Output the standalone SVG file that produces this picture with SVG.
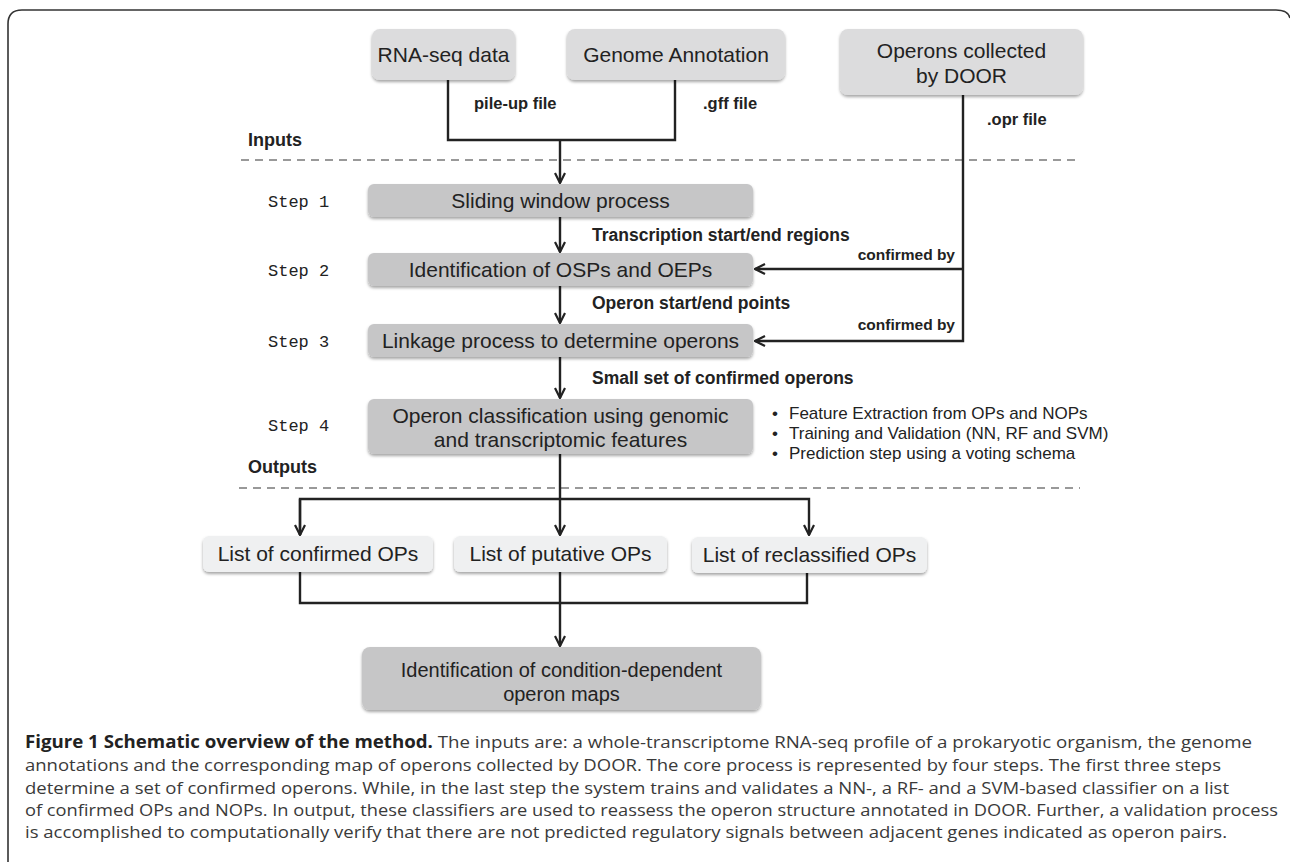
<svg xmlns="http://www.w3.org/2000/svg" width="1290" height="862" viewBox="0 0 1290 862">
<style>
.frame{fill:none;stroke:#333;stroke-width:1.6}
.light{fill:#dcdcdd}
.mid{fill:#c6c6c7}
.pale{fill:#eff0f1}
.bt{font-family:"Liberation Sans",Arial,sans-serif;font-size:21px;fill:#222;text-anchor:middle}
.lbl{font-family:"Liberation Sans",Arial,sans-serif;font-size:17.5px;font-weight:bold;fill:#222}
.sm{font-family:"Liberation Sans",Arial,sans-serif;font-size:16.5px;font-weight:bold;fill:#222}
.cb{font-family:"Liberation Sans",Arial,sans-serif;font-size:15.5px;font-weight:bold;fill:#222;text-anchor:end}
.step{font-family:"Liberation Mono","Courier New",monospace;font-size:17px;fill:#222}
.bul{font-family:"Liberation Sans",Arial,sans-serif;font-size:17px;fill:#222}
.cap{font-family:"Open Sans","Noto Sans",sans-serif;font-size:17px;fill:#3a3a3a}
.capb{font-weight:bold;fill:#222}
.dash{fill:none;stroke:#999;stroke-width:2;stroke-dasharray:8,6}
.con{fill:none;stroke:#222;stroke-width:2.4}
</style>
<defs>
<filter id="sh" x="-5%" y="-10%" width="110%" height="130%">
<feDropShadow dx="0" dy="2" stdDeviation="1.5" flood-color="#000" flood-opacity="0.35"/>
</filter>
<marker id="ah" viewBox="0 0 12 12" refX="11" refY="6" markerWidth="12" markerHeight="12" markerUnits="userSpaceOnUse" orient="auto">
<path d="M1,1 L11,6 L1,11" fill="none" stroke="#222" stroke-width="2.2"/>
</marker>
</defs>

<path class="frame" d="M8,862 V24 Q8,10 22,10 H1276 Q1288,10 1290,18"/>

<g id="dividers">
<line class="dash" x1="241" y1="160" x2="1078" y2="160"/>
<line class="dash" x1="239" y1="488" x2="1080" y2="488"/>
<text class="lbl" x="248" y="146" style="font-size:18px">Inputs</text>
<text class="lbl" x="248" y="473" style="font-size:18px">Outputs</text>
</g>

<g id="connectors">
<path class="con" d="M448,80 V140 H675 V80"/>
<path class="con" d="M560,140 V183" marker-end="url(#ah)"/>
<path class="con" d="M963,95 V341 H755" marker-end="url(#ah)"/>
<path class="con" d="M963,269 H755" marker-end="url(#ah)"/>
<path class="con" d="M560,217 V252" marker-end="url(#ah)"/>
<path class="con" d="M560,286 V323" marker-end="url(#ah)"/>
<path class="con" d="M560,357 V398" marker-end="url(#ah)"/>
<path class="con" d="M560,454 V535" marker-end="url(#ah)"/>
<path class="con" d="M300,535 V499 H809 V535" marker-end="url(#ah)"/>
<path class="con" d="M300,499 V535" marker-end="url(#ah)"/>
<path class="con" d="M300,572 V603 H807 V573"/>
<path class="con" d="M560,572 V646" marker-end="url(#ah)"/>
<text class="sm" x="474" y="109">pile-up file</text>
<text class="sm" x="703" y="109">.gff file</text>
<text class="sm" x="987" y="125">.opr file</text>
<text class="lbl" x="592" y="241">Transcription start/end regions</text>
<text class="lbl" x="592" y="309">Operon start/end points</text>
<text class="lbl" x="592" y="384">Small set of confirmed operons</text>
<text class="cb" x="955" y="260">confirmed by</text>
<text class="cb" x="955" y="330">confirmed by</text>
</g>

<g id="rnaseq">
<rect class="light" x="372" y="29" width="143" height="51" rx="8" filter="url(#sh)"/>
<text class="bt" x="443.5" y="62">RNA-seq data</text>
</g>
<g id="genome">
<rect class="light" x="567" y="29" width="218" height="51" rx="8" filter="url(#sh)"/>
<text class="bt" x="676" y="62">Genome Annotation</text>
</g>
<g id="door">
<rect class="light" x="840" y="29" width="243" height="66" rx="8" filter="url(#sh)"/>
<text class="bt" x="961.5" y="58">Operons collected</text>
<text class="bt" x="961.5" y="83">by DOOR</text>
</g>

<g id="step1">
<text class="step" x="268" y="207">Step 1</text>
<rect class="mid" x="368" y="184" width="385" height="33" rx="6" filter="url(#sh)"/>
<text class="bt" x="560.5" y="208">Sliding window process</text>
</g>
<g id="step2">
<text class="step" x="268" y="276">Step 2</text>
<rect class="mid" x="368" y="253" width="385" height="33" rx="6" filter="url(#sh)"/>
<text class="bt" x="560.5" y="277">Identification of OSPs and OEPs</text>
</g>
<g id="step3">
<text class="step" x="268" y="347">Step 3</text>
<rect class="mid" x="368" y="324" width="385" height="33" rx="6" filter="url(#sh)"/>
<text class="bt" x="560.5" y="348">Linkage process to determine operons</text>
</g>
<g id="step4">
<text class="step" x="268" y="431">Step 4</text>
<rect class="mid" x="368" y="399" width="385" height="55" rx="6" filter="url(#sh)"/>
<text class="bt" x="560.5" y="423">Operon classification using genomic</text>
<text class="bt" x="560.5" y="447">and transcriptomic features</text>
</g>
<g id="bullets">
<text class="bul" x="772" y="419">•</text>
<text class="bul" x="789" y="419">Feature Extraction from OPs and NOPs</text>
<text class="bul" x="772" y="439">•</text>
<text class="bul" x="789" y="439">Training and Validation (NN, RF and SVM)</text>
<text class="bul" x="772" y="459">•</text>
<text class="bul" x="789" y="459">Prediction step using a voting schema</text>
</g>

<g id="confirmed">
<rect class="pale" x="203" y="536" width="230" height="36" rx="6" filter="url(#sh)"/>
<text class="bt" x="318" y="561">List of confirmed OPs</text>
</g>
<g id="putative">
<rect class="pale" x="454" y="536" width="213" height="36" rx="6" filter="url(#sh)"/>
<text class="bt" x="560.5" y="561">List of putative OPs</text>
</g>
<g id="reclassified">
<rect class="pale" x="692" y="537" width="235" height="36" rx="6" filter="url(#sh)"/>
<text class="bt" x="809.5" y="562">List of reclassified OPs</text>
</g>

<g id="maps">
<rect class="mid" x="362" y="647" width="399" height="63" rx="8" filter="url(#sh)"/>
<text class="bt" x="561.5" y="677" style="font-size:20px">Identification of condition-dependent</text>
<text class="bt" x="561.5" y="701" style="font-size:20px">operon maps</text>
</g>

<g id="caption">
<text class="cap" x="25" y="748" textLength="1227" lengthAdjust="spacingAndGlyphs"><tspan class="capb">Figure 1 Schematic overview of the method.</tspan> The inputs are: a whole-transcriptome RNA-seq profile of a prokaryotic organism, the genome</text>
<text class="cap" x="25" y="771" textLength="1196" lengthAdjust="spacingAndGlyphs">annotations and the corresponding map of operons collected by DOOR. The core process is represented by four steps. The first three steps</text>
<text class="cap" x="25" y="794" textLength="1204" lengthAdjust="spacingAndGlyphs">determine a set of confirmed operons. While, in the last step the system trains and validates a NN-, a RF- and a SVM-based classifier on a list</text>
<text class="cap" x="25" y="816" textLength="1253" lengthAdjust="spacingAndGlyphs">of confirmed OPs and NOPs. In output, these classifiers are used to reassess the operon structure annotated in DOOR. Further, a validation process</text>
<text class="cap" x="25" y="838" textLength="1202" lengthAdjust="spacingAndGlyphs">is accomplished to computationally verify that there are not predicted regulatory signals between adjacent genes indicated as operon pairs.</text>
</g>
</svg>
